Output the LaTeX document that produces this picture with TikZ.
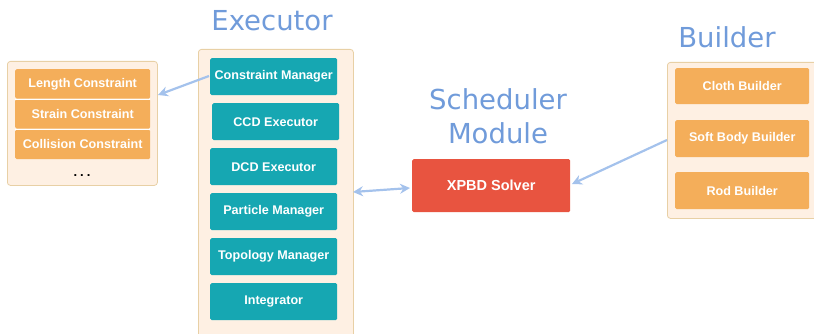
\documentclass[tikz,border=0pt]{standalone}
\usepackage{fontspec}
\setmainfont{Liberation Sans}
\newfontfamily\titlefont{DejaVu Sans}
\usetikzlibrary{arrows.meta}
\definecolor{tealbox}{RGB}{22,167,178}
\definecolor{redbox}{RGB}{232,84,64}
\definecolor{orangebox}{RGB}{244,174,90}
\definecolor{panelfill}{RGB}{254,240,227}
\definecolor{panelline}{RGB}{232,208,165}
\definecolor{linkblue}{RGB}{164,194,236}
\definecolor{titleblue}{RGB}{112,155,218}
\tikzset{
  panel/.style={draw=panelline, fill=panelfill, line width=0.8pt, rounded corners=3pt},
  item/.style={rounded corners=1.5pt, text=white, font=\bfseries\fontsize{12.6}{14}\selectfont, inner sep=0pt, anchor=north west},
  tealitem/.style={item, fill=tealbox},
  orangeitem/.style={item, fill=orangebox},
  title/.style={text=titleblue, font=\titlefont\fontsize{27.5}{30}\selectfont, align=center},
  link/.style={draw=linkblue, line width=2.2pt, -{Stealth[length=10pt,width=10pt]}},
}
\begin{document}
\begin{tikzpicture}[x=1pt,y=-1pt]
\useasboundingbox (0,0) rectangle (814,334);

% constraint panel
\node[panel, minimum width=150, minimum height=124, anchor=north west] (cpanel) at (7,61) {};
\node[orangeitem, minimum width=135, minimum height=29.5] (len) at (15,69) {Length Constraint};
\node[orangeitem, minimum width=135, minimum height=29.5] (strain) at (15,99) {Strain Constraint};
\node[orangeitem, minimum width=135, minimum height=29.5] (coll) at (15,129.5) {Collision Constraint};
\draw[white, line width=0.4pt] (len.south west) -- (len.south east);
\draw[white, line width=0.4pt] (strain.south west) -- (strain.south east);
\node[font=\bfseries\fontsize{13}{14}\selectfont] (dots) at (82,176) {.\hspace{3pt}.\hspace{3pt}.};

% executor panel
\node[title] (exectitle) at (272,21) {Executor};
\node[panel, minimum width=155, minimum height=290, anchor=north west] (epanel) at (198,49) {};
\node[tealitem, minimum width=127, minimum height=37] (cm) at (210,58) {Constraint Manager};
\node[tealitem, minimum width=127, minimum height=37] (ccd) at (212,103) {CCD Executor};
\node[tealitem, minimum width=127, minimum height=37] (dcd) at (210,148) {DCD Executor};
\node[tealitem, minimum width=127, minimum height=37] (pm) at (210,193) {Particle Manager};
\node[tealitem, minimum width=127, minimum height=37] (tm) at (210,238) {Topology Manager};
\node[tealitem, minimum width=127, minimum height=37] (integ) at (210,283) {Integrator};

% scheduler module
\node[title, font=\titlefont\fontsize{27.5}{34}\selectfont] (schedtitle) at (498,116) {Scheduler\\Module};
\node[item, fill=redbox, minimum width=158, minimum height=53, font=\bfseries\fontsize{14.5}{16}\selectfont] (xpbd) at (412,159) {XPBD Solver};

% builder panel
\node[title] (buildtitle) at (727,37) {Builder};
\node[panel, minimum width=160, minimum height=156, anchor=north west] (bpanel) at (667,62) {};
\node[orangeitem, minimum width=134, minimum height=36] (cloth) at (675,68) {Cloth Builder};
\node[orangeitem, minimum width=134, minimum height=37] (soft) at (675,120) {Soft Body Builder};
\node[orangeitem, minimum width=134, minimum height=37] (rod) at (675,172) {Rod Builder};

% connectors
\coordinate (cmout) at (209,76);
\coordinate (cpin) at (158,95);
\draw[link] (cmout) -- (cpin);
\coordinate (eside) at (353,192);
\coordinate (xside) at (410,188);
\draw[link, {Stealth[length=10pt,width=10pt]}-{Stealth[length=10pt,width=10pt]}] (eside) -- (xside);
\coordinate (bside) at (667,140);
\coordinate (xright) at (572,184);
\draw[link] (bside) -- (xright);
\end{tikzpicture}
\end{document}
